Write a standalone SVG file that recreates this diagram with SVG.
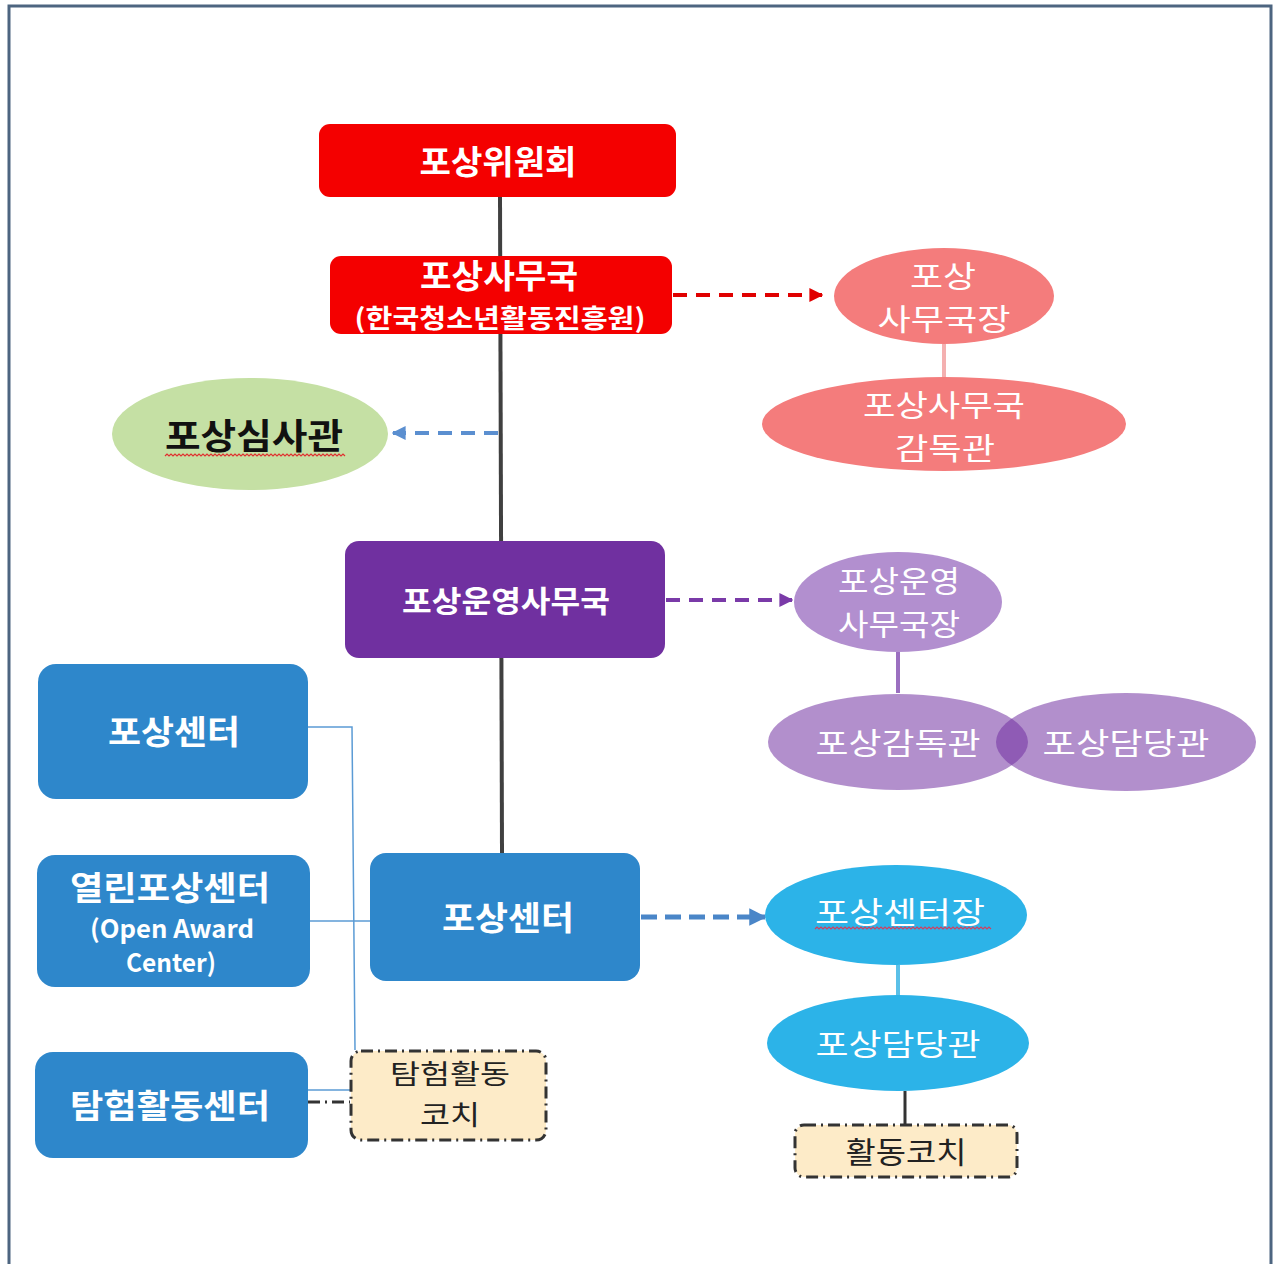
<svg xmlns="http://www.w3.org/2000/svg" width="1275" height="1264" viewBox="0 0 1275 1264">
<defs>
<style>
text{font-family:"Noto Sans CJK KR","Noto Sans",sans-serif;text-anchor:middle;dominant-baseline:central}
.w{fill:#fff}
.b{font-weight:bold}
.t33{font-size:33px}
.t30{font-size:30px}
.red{fill:#f40000}
.salmon{fill:#f47c7c}
.blue{fill:#2e87cb}
.cyan{fill:#2cb3e8}
.coach{fill:#fdebc8;stroke:#333;stroke-width:3;stroke-dasharray:12 5 2 5}
</style>
<marker id="ar" viewBox="0 0 10 10" refX="9" refY="5" markerWidth="3.5" markerHeight="3.5" orient="auto" markerUnits="strokeWidth"><path d="M0,0 L10,5 L0,10 z" fill="#e00000"/></marker>
<marker id="ab" viewBox="0 0 10 10" refX="9" refY="5" markerWidth="3.5" markerHeight="3.5" orient="auto" markerUnits="strokeWidth"><path d="M0,0 L10,5 L0,10 z" fill="#5b8fd0"/></marker>
<marker id="ap" viewBox="0 0 10 10" refX="9" refY="5" markerWidth="3.5" markerHeight="3.5" orient="auto" markerUnits="strokeWidth"><path d="M0,0 L10,5 L0,10 z" fill="#7a3aa8"/></marker>
<marker id="ac" viewBox="0 0 10 10" refX="9" refY="5" markerWidth="3.5" markerHeight="3.5" orient="auto" markerUnits="strokeWidth"><path d="M0,0 L10,5 L0,10 z" fill="#4a86c8"/></marker>
</defs>
<rect x="0" y="0" width="1275" height="1264" fill="#fff"/>
<path d="M9,1266 V6 H1271 V1266" fill="none" stroke="#4d6580" stroke-width="3"/>

<g id="connectors" fill="none">
<line x1="500" y1="197" x2="502" y2="853" stroke="#404040" stroke-width="4"/>
<line x1="673" y1="295" x2="822" y2="295" stroke="#e00000" stroke-width="4" stroke-dasharray="14 9" marker-end="url(#ar)"/>
<line x1="944" y1="344" x2="944" y2="378" stroke="#f4b0b0" stroke-width="4"/>
<line x1="498" y1="433" x2="393" y2="433" stroke="#5b8fd0" stroke-width="4" stroke-dasharray="14 9" marker-end="url(#ab)"/>
<line x1="666" y1="600" x2="792" y2="600" stroke="#7a3aa8" stroke-width="4" stroke-dasharray="14 9" marker-end="url(#ap)"/>
<line x1="898" y1="652" x2="898" y2="693" stroke="#9b6fc0" stroke-width="4"/>
<line x1="641" y1="917" x2="765" y2="917" stroke="#4a86c8" stroke-width="5" stroke-dasharray="16 8" marker-end="url(#ac)"/>
<line x1="898" y1="965" x2="898" y2="996" stroke="#5bc0e8" stroke-width="4"/>
<line x1="905" y1="1091" x2="905" y2="1124" stroke="#333" stroke-width="3"/>
<polyline points="308,727 352,727 355,1050" stroke="#5b9bd5" stroke-width="1.5"/>
<line x1="310" y1="921" x2="370" y2="921" stroke="#5b9bd5" stroke-width="1.5"/>
<line x1="308" y1="1090" x2="352" y2="1090" stroke="#5b9bd5" stroke-width="1.5"/>
<line x1="308" y1="1102" x2="350" y2="1102" stroke="#333" stroke-width="3" stroke-dasharray="12 5 2 5"/>
</g>

<g id="n-committee">
<rect x="319" y="124" width="357" height="73" rx="11" class="red"/>
<text x="498" y="160" class="w b t33" textLength="157" lengthAdjust="spacingAndGlyphs">포상위원회</text>
</g>

<g id="n-secretariat">
<rect x="330" y="256" width="342" height="78" rx="11" class="red"/>
<text x="499" y="274" class="w b t33" textLength="158" lengthAdjust="spacingAndGlyphs">포상사무국</text>
<text x="500" y="316" class="w b" font-size="26" textLength="291" lengthAdjust="spacingAndGlyphs">(한국청소년활동진흥원)</text>
</g>

<g id="n-sec-head">
<ellipse cx="944" cy="296" rx="110" ry="48" class="salmon"/>
<text x="943" y="274" class="w t30" textLength="66" lengthAdjust="spacingAndGlyphs">포상</text>
<text x="944" y="317" class="w t30" textLength="133" lengthAdjust="spacingAndGlyphs">사무국장</text>
</g>

<g id="n-sec-supervisor">
<ellipse cx="944" cy="424" rx="182" ry="47" class="salmon"/>
<text x="944" y="403" class="w t30" textLength="162" lengthAdjust="spacingAndGlyphs">포상사무국</text>
<text x="945" y="446" class="w t30" textLength="100" lengthAdjust="spacingAndGlyphs">감독관</text>
</g>

<g id="n-examiner">
<ellipse cx="250" cy="434" rx="138" ry="56" fill="#c5e0a4"/>
<text x="254" y="433" class="b" font-size="35" fill="#111" textLength="178" lengthAdjust="spacingAndGlyphs">포상심사관</text>
<path d="M165,456 l2,-2 2,2 2,-2 2,2 2,-2 2,2 2,-2 2,2 2,-2 2,2 2,-2 2,2 2,-2 2,2 2,-2 2,2 2,-2 2,2 2,-2 2,2 2,-2 2,2 2,-2 2,2 2,-2 2,2 2,-2 2,2 2,-2 2,2 2,-2 2,2 2,-2 2,2 2,-2 2,2 2,-2 2,2 2,-2 2,2 2,-2 2,2 2,-2 2,2 2,-2 2,2 2,-2 2,2 2,-2 2,2 2,-2 2,2 2,-2 2,2 2,-2 2,2 2,-2 2,2 2,-2 2,2 2,-2 2,2 2,-2 2,2 2,-2 2,2 2,-2 2,2 2,-2 2,2 2,-2 2,2 2,-2 2,2 2,-2 2,2 2,-2 2,2 2,-2 2,2 2,-2 2,2 2,-2 2,2 2,-2 2,2 2,-2 2,2 2,-2 2,2" fill="none" stroke="#e03030" stroke-width="1.2"/>
</g>

<g id="n-ops">
<rect x="345" y="541" width="320" height="117" rx="14" fill="#7030a0"/>
<text x="506" y="599" class="w b t30" textLength="208" lengthAdjust="spacingAndGlyphs">포상운영사무국</text>
</g>

<g id="n-ops-head">
<ellipse cx="898" cy="602" rx="104" ry="50" fill="#b28fcf"/>
<text x="899" y="579" class="w t30" textLength="122" lengthAdjust="spacingAndGlyphs">포상운영</text>
<text x="899" y="622" class="w t30" textLength="122" lengthAdjust="spacingAndGlyphs">사무국장</text>
</g>

<g id="n-ops-supervisor">
<ellipse cx="898" cy="742" rx="130" ry="48" fill="#7030a0" fill-opacity="0.54"/>
<text x="898" y="741" class="w t30" textLength="165" lengthAdjust="spacingAndGlyphs">포상감독관</text>
</g>

<g id="n-ops-officer">
<ellipse cx="1126" cy="742" rx="130" ry="49" fill="#7030a0" fill-opacity="0.54"/>
<text x="1126" y="741" class="w t30" textLength="167" lengthAdjust="spacingAndGlyphs">포상담당관</text>
</g>

<g id="n-left-center">
<rect x="38" y="664" width="270" height="135" rx="18" class="blue"/>
<text x="174" y="730" class="w b t33" textLength="132" lengthAdjust="spacingAndGlyphs">포상센터</text>
</g>

<g id="n-open-center">
<rect x="37" y="855" width="273" height="132" rx="18" class="blue"/>
<text x="170" y="886" class="w b t33" textLength="200" lengthAdjust="spacingAndGlyphs">열린포상센터</text>
<text x="172" y="927" class="w b" font-size="25" textLength="164" lengthAdjust="spacingAndGlyphs">(Open Award</text>
<text x="171" y="961" class="w b" font-size="25" textLength="90" lengthAdjust="spacingAndGlyphs">Center)</text>
</g>

<g id="n-explore-center">
<rect x="35" y="1052" width="273" height="106" rx="18" class="blue"/>
<text x="170" y="1104" class="w b t33" textLength="200" lengthAdjust="spacingAndGlyphs">탐험활동센터</text>
</g>

<g id="n-center">
<rect x="370" y="853" width="270" height="128" rx="16" class="blue"/>
<text x="508" y="916" class="w b t33" textLength="132" lengthAdjust="spacingAndGlyphs">포상센터</text>
</g>

<g id="n-center-head">
<ellipse cx="896" cy="915" rx="131" ry="50" class="cyan"/>
<text x="900" y="910" class="w t30" textLength="170" lengthAdjust="spacingAndGlyphs">포상센터장</text>
<path d="M815,929 l2,-2 2,2 2,-2 2,2 2,-2 2,2 2,-2 2,2 2,-2 2,2 2,-2 2,2 2,-2 2,2 2,-2 2,2 2,-2 2,2 2,-2 2,2 2,-2 2,2 2,-2 2,2 2,-2 2,2 2,-2 2,2 2,-2 2,2 2,-2 2,2 2,-2 2,2 2,-2 2,2 2,-2 2,2 2,-2 2,2 2,-2 2,2 2,-2 2,2 2,-2 2,2 2,-2 2,2 2,-2 2,2 2,-2 2,2 2,-2 2,2 2,-2 2,2 2,-2 2,2 2,-2 2,2 2,-2 2,2 2,-2 2,2 2,-2 2,2 2,-2 2,2 2,-2 2,2 2,-2 2,2 2,-2 2,2 2,-2 2,2 2,-2 2,2 2,-2 2,2 2,-2 2,2 2,-2 2,2 2,-2 2,2 2,-2 2,2" fill="none" stroke="#d04060" stroke-width="1.2"/>
</g>

<g id="n-center-officer">
<ellipse cx="898" cy="1043" rx="131" ry="48" class="cyan"/>
<text x="898" y="1042" class="w t30" textLength="165" lengthAdjust="spacingAndGlyphs">포상담당관</text>
</g>

<g id="n-explore-coach">
<rect x="351" y="1051" width="195" height="89" rx="10" class="coach"/>
<text x="450" y="1072" font-size="27" fill="#222" textLength="120" lengthAdjust="spacingAndGlyphs">탐험활동</text>
<text x="450" y="1113" font-size="27" fill="#222" textLength="60" lengthAdjust="spacingAndGlyphs">코치</text>
</g>

<g id="n-coach">
<rect x="795" y="1125" width="222" height="52" rx="9" class="coach"/>
<text x="906" y="1150" class="t30" fill="#222" textLength="121" lengthAdjust="spacingAndGlyphs">활동코치</text>
</g>
</svg>
